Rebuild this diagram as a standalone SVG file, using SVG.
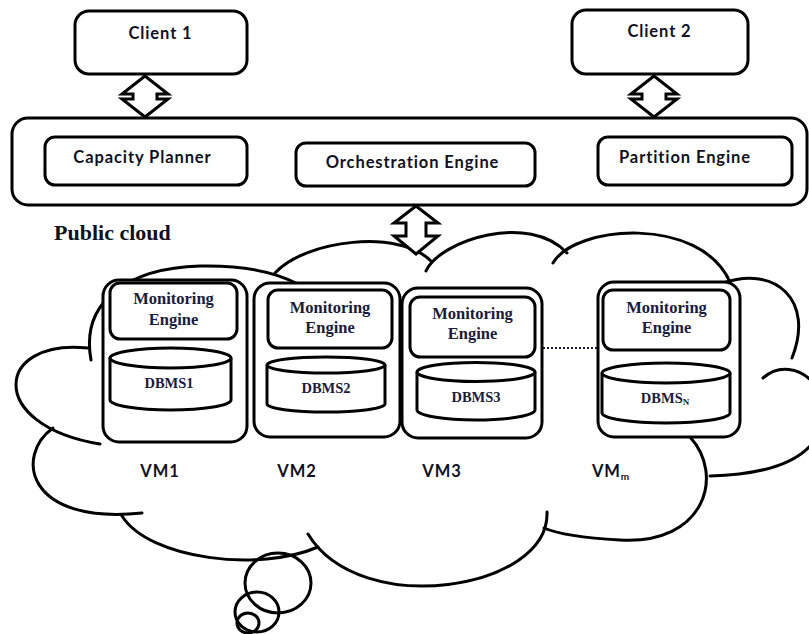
<svg xmlns="http://www.w3.org/2000/svg" width="809" height="634" viewBox="0 0 809 634">
<style>
.bx{fill:#fff;stroke:#000;stroke-width:3}
.cl{fill:none;stroke:#000;stroke-width:3;stroke-linecap:round}
.arr{fill:#fff;stroke:#000;stroke-width:3;stroke-linejoin:miter}
.sans{font-family:Lato,"Liberation Sans",sans-serif;font-weight:bold;font-size:16.5px;letter-spacing:0.9px;fill:#111122;text-anchor:middle}
.ser{font-family:"Liberation Serif","Times New Roman",serif;font-weight:bold;fill:#1b1b3a;text-anchor:middle}
.me{font-size:16.5px}
.db{font-size:14.5px}
</style>
<rect width="809" height="634" fill="#fff"/>
<g id="cloud">
<path class="cl" d="M91,360 C80,300 130,268 200,266 C245,265 275,272 298,284"/>
<path class="cl" d="M275,273 C305,240 400,228 432,262"/>
<path class="cl" d="M426,271 C440,240 530,212 567,253"/>
<path class="cl" d="M553,263 C575,225 700,215 730,282"/>
<path class="cl" d="M723,283 C775,265 815,300 792,358"/>
<path class="cl" d="M763,378 C795,350 845,395 815,440 C795,468 750,475 710,476"/>
<path class="cl" d="M690,437 C725,475 705,545 620,540 C585,538 560,535 544,528"/>
<path class="cl" d="M547,512 C550,590 360,620 308,534"/>
<path class="cl" d="M122,516 C150,560 260,572 318,547"/>
<path class="cl" d="M53,428 C15,455 25,525 142,513"/>
<path class="cl" d="M88,348 C-5,338 -15,425 100,444"/>
<ellipse class="cl" cx="278" cy="583" rx="33" ry="30"/>
<ellipse class="cl" cx="257" cy="612" rx="22" ry="20"/>
<ellipse class="cl" cx="248" cy="623" rx="11" ry="10"/>
</g>
<text x="54" y="240" font-family="'Liberation Serif',serif" font-weight="bold" font-size="22" fill="#111122">Public cloud</text>
<g id="platform">
<rect class="bx" x="12" y="118" width="795" height="87" rx="16"/>
</g>
<g id="client1">
<rect class="bx" x="75" y="11" width="172" height="63" rx="14"/>
<text class="sans" x="160.5" y="39">Client 1</text>
</g>
<g id="client2">
<rect class="bx" x="572" y="10" width="176" height="64" rx="14"/>
<text class="sans" x="659.5" y="37">Client 2</text>
</g>
<g id="capacity">
<rect class="bx" x="45" y="137" width="202" height="48" rx="10"/>
<text class="sans" x="142.5" y="163">Capacity Planner</text>
</g>
<g id="orchestration">
<rect class="bx" x="296" y="143" width="239" height="43" rx="10"/>
<text class="sans" x="412.5" y="168">Orchestration Engine</text>
</g>
<g id="partition">
<rect class="bx" x="598" y="137" width="194" height="48" rx="10"/>
<text class="sans" x="685" y="163">Partition Engine</text>
</g>
<g id="connectors">
<polygon class="arr" points="145,76 168,94 157,94 157,99 168,99 145,117 122,99 133,99 133,94 122,94"/>
<polygon class="arr" points="654,76 677,94 666,94 666,99 677,99 654,117 631,99 642,99 642,94 631,94"/>
<polygon class="arr" points="416,206 438,223 426,223 426,236 438,236 416,254 394,236 406,236 406,223 394,223"/>
<line x1="543" y1="348" x2="597" y2="348" stroke="#1b1b3a" stroke-width="2" stroke-dasharray="2,2"/>
</g>
<g id="vm1">
<rect class="bx" x="103" y="280" width="144" height="162" rx="16"/>
<rect class="bx" x="110" y="283" width="127" height="56" rx="10"/>
<text class="ser me" x="173.5" y="304">Monitoring</text>
<text class="ser me" x="173.5" y="325">Engine</text>
<path class="bx" d="M110,358 V400 A60.5,10 0 0 0 231,400 V358"/>
<ellipse class="bx" cx="170.5" cy="358" rx="60.5" ry="10"/>
<text class="ser db" x="169" y="388">DBMS1</text>
<text class="sans" x="160" y="477">VM1</text>
</g>
<g id="vm2">
<rect class="bx" x="254" y="283" width="146" height="154" rx="16"/>
<rect class="bx" x="268" y="290" width="124" height="58" rx="10"/>
<text class="ser me" x="330" y="313">Monitoring</text>
<text class="ser me" x="330" y="333">Engine</text>
<path class="bx" d="M267,365 V404 A59,8 0 0 0 385,404 V365"/>
<ellipse class="bx" cx="326" cy="365" rx="59" ry="8"/>
<text class="ser db" x="326" y="393">DBMS2</text>
<text class="sans" x="297" y="477">VM2</text>
</g>
<g id="vm3">
<rect class="bx" x="402" y="288" width="140" height="150" rx="16"/>
<rect class="bx" x="410" y="297" width="125" height="60" rx="10"/>
<text class="ser me" x="472.5" y="319">Monitoring</text>
<text class="ser me" x="472.5" y="339">Engine</text>
<path class="bx" d="M417,372 V410 A59,10 0 0 0 535,410 V372"/>
<ellipse class="bx" cx="476" cy="372" rx="59" ry="9.5"/>
<text class="ser db" x="476" y="402">DBMS3</text>
<text class="sans" x="442" y="477">VM3</text>
</g>
<g id="vmm">
<rect class="bx" x="598" y="282" width="142" height="155" rx="16"/>
<rect class="bx" x="603" y="290" width="127" height="60" rx="10"/>
<text class="ser me" x="666.5" y="313">Monitoring</text>
<text class="ser me" x="666.5" y="333">Engine</text>
<path class="bx" d="M602,373 V413 A64,10 0 0 0 730,413 V373"/>
<ellipse class="bx" cx="666" cy="373" rx="64" ry="10"/>
<text class="ser db" x="665" y="403">DBMS<tspan font-size="9" dy="2">N</tspan></text>
<text class="sans" x="611" y="477">VM<tspan font-size="10" dy="3">m</tspan></text>
</g>
</svg>
